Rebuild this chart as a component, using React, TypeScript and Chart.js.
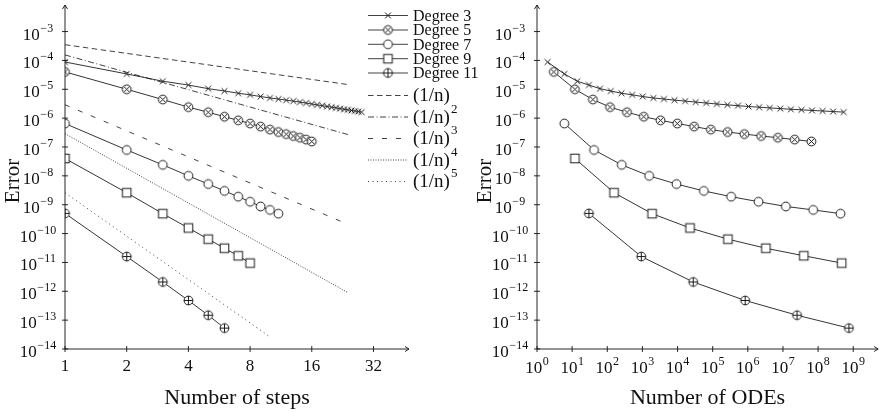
import { useEffect, useRef } from "react";
import { Chart, registerables } from "chart.js";

Chart.register(...registerables);

// ---------- data ----------
const stepsDeg3 = [1, 2, 3, 4, 5, 6, 7, 8, 9, 10, 11, 12, 13, 14, 15, 16, 17, 18, 19, 20, 21, 22, 23, 24, 25, 26, 27, 28];
const odesDeg3 = [2, 6, 14, 30, 62, 126, 254, 510, 1022, 2046, 4094, 8190, 16382, 32766, 65534, 131070, 262142, 524286, 1048574, 2097150, 4194302, 8388606, 16777214, 33554430, 67108862, 134217726, 268435454, 536870910];
const errDeg3 = [8.8e-5, 3.4e-5, 1.9e-5, 1.4e-5, 1.05e-5, 8.7e-6, 7.3e-6, 6.4e-6, 5.6e-6, 5.0e-6, 4.6e-6, 4.2e-6, 3.9e-6, 3.6e-6, 3.33e-6, 3.09e-6, 2.88e-6, 2.7e-6, 2.53e-6, 2.39e-6, 2.26e-6, 2.14e-6, 2.03e-6, 1.94e-6, 1.85e-6, 1.77e-6, 1.69e-6, 1.62e-6];

const stepsDeg5 = [1, 2, 3, 4, 5, 6, 7, 8, 9, 10, 11, 12, 13, 14, 15, 16];
const odesDeg5 = [3, 12, 39, 120, 363, 1092, 3279, 9840, 29523, 88572, 265719, 797160, 2391483, 7174452, 21523359, 64570080];
const errDeg5 = [4.0e-5, 1.0e-5, 4.4e-6, 2.4e-6, 1.6e-6, 1.12e-6, 8.4e-7, 6.5e-7, 5.1e-7, 4.0e-7, 3.3e-7, 2.8e-7, 2.4e-7, 2.1e-7, 1.8e-7, 1.55e-7];

const stepsDeg7 = [1, 2, 3, 4, 5, 6, 7, 8, 9, 10, 11];
const odesDeg7 = [6, 42, 258, 1554, 9330, 55986, 335922, 2015538, 12093234, 72559410, 435356466];
const errDeg7 = [6.5e-7, 7.9e-8, 2.4e-8, 1.0e-8, 5.2e-9, 3.0e-9, 1.9e-9, 1.27e-9, 8.7e-10, 6.6e-10, 4.9e-10];

const stepsDeg9 = [1, 2, 3, 4, 5, 6, 7, 8];
const odesDeg9 = [12, 156, 1884, 22620, 271452, 3257436, 39089244, 469070940];
const errDeg9 = [4.0e-8, 2.6e-9, 4.9e-10, 1.56e-10, 6.4e-11, 3.1e-11, 1.7e-11, 9.5e-12];

const stepsDeg11 = [1, 2, 3, 4, 5, 6];
const odesDeg11 = [30, 930, 27930, 837930, 25137930, 754137930];
const errDeg11 = [5.0e-10, 1.6e-11, 2.1e-12, 4.8e-13, 1.48e-13, 5.3e-14];

// reference slopes (start / end)
const refSteps = [1, 24];
const refSteps5 = [1, 10.1];
const ref1 = [3.5e-4, 1.46e-5];
const ref2 = [1.55e-4, 2.7e-7];
const ref3 = [2.9e-6, 2.1e-10];
const ref4 = [2.9e-7, 9.0e-13];
const ref5 = [2.6e-9, 2.5e-14];

const seriesLabels = ["Degree 3", "Degree 5", "Degree 7", "Degree 9", "Degree 11"];
const refLabels = ["(1/n)", "(1/n)", "(1/n)", "(1/n)", "(1/n)"];
const refPowers = ["", "2", "3", "4", "5"];

const xTicksSteps = [1, 2, 4, 8, 16, 32];
const xTickExpOdes = [0, 1, 2, 3, 4, 5, 6, 7, 8, 9];
const yTickExp = [-14, -13, -12, -11, -10, -9, -8, -7, -6, -5, -4, -3];

const yTitle = "Error";
const xTitleLeft = "Number of steps";
const xTitleRight = "Number of ODEs";

// ---------- styling ----------
const FONT = '"Liberation Serif", "Times New Roman", serif';
const INK = "#111";

function makeMarker(kind: string): HTMLCanvasElement {
  const s = 13;
  const c = document.createElement("canvas");
  c.width = s;
  c.height = s;
  const ctx = c.getContext("2d")!;
  const m = s / 2;
  const r = 4.4;
  ctx.strokeStyle = INK;
  ctx.fillStyle = "#fff";
  ctx.lineWidth = 0.95;
  if (kind === "x") {
    const d = 2.9;
    ctx.beginPath();
    ctx.moveTo(m - d, m - d);
    ctx.lineTo(m + d, m + d);
    ctx.moveTo(m - d, m + d);
    ctx.lineTo(m + d, m - d);
    ctx.stroke();
  } else if (kind === "square") {
    const h = 4.3;
    ctx.fillRect(m - h, m - h, 2 * h, 2 * h);
    ctx.strokeRect(m - h, m - h, 2 * h, 2 * h);
  } else {
    ctx.beginPath();
    ctx.arc(m, m, r, 0, Math.PI * 2);
    ctx.fill();
    ctx.stroke();
    if (kind === "otimes") {
      const d = r * Math.SQRT1_2;
      ctx.beginPath();
      ctx.moveTo(m - d, m - d);
      ctx.lineTo(m + d, m + d);
      ctx.moveTo(m - d, m + d);
      ctx.lineTo(m + d, m - d);
      ctx.stroke();
    } else if (kind === "oplus") {
      ctx.beginPath();
      ctx.moveTo(m - r, m);
      ctx.lineTo(m + r, m);
      ctx.moveTo(m, m - r);
      ctx.lineTo(m, m + r);
      ctx.stroke();
    }
  }
  return c;
}

const markerKinds = ["x", "otimes", "circle", "square", "oplus"];
const refDashes: number[][] = [[5.5, 3.5], [6, 2.5, 1, 2.5], [5, 9], [1, 1.5], [1, 3.5]];

function toPts(xs: number[], ys: number[]) {
  return xs.map((x, i) => ({ x, y: ys[i] }));
}

function drawPow(ctx: CanvasRenderingContext2D, exp: number, cx: number, baseY: number) {
  const base = "10";
  const sup = exp < 0 ? "\u2212" + Math.abs(exp) : String(exp);
  ctx.textAlign = "left";
  ctx.textBaseline = "alphabetic";
  ctx.font = `17px ${FONT}`;
  const wb = ctx.measureText(base).width;
  ctx.font = `12px ${FONT}`;
  const ws = ctx.measureText(sup).width;
  const x0 = cx - (wb + ws + 0.5) / 2;
  ctx.font = `17px ${FONT}`;
  ctx.fillText(base, x0, baseY);
  ctx.font = `12px ${FONT}`;
  ctx.fillText(sup, x0 + wb + 0.5, baseY - 8);
}

function axesPlugin(kind: "steps" | "odes", markers: HTMLCanvasElement[]) {
  return {
    id: "customAxes" + kind,
    afterDraw(chart: any) {
      const ctx: CanvasRenderingContext2D = chart.ctx;
      const { left, right, top, bottom } = chart.chartArea;
      const xs = chart.scales.x;
      const ys = chart.scales.y;
      ctx.save();
      ctx.strokeStyle = INK;
      ctx.fillStyle = INK;
      ctx.lineWidth = 0.9;
      // axis lines
      ctx.beginPath();
      ctx.moveTo(left, bottom);
      ctx.lineTo(left, top);
      ctx.moveTo(left, bottom);
      ctx.lineTo(right, bottom);
      ctx.stroke();
      // arrow heads
      ctx.beginPath();
      ctx.moveTo(left - 2.5, top + 4);
      ctx.lineTo(left, top);
      ctx.lineTo(left + 2.5, top + 4);
      ctx.moveTo(right - 4, bottom - 2.5);
      ctx.lineTo(right, bottom);
      ctx.lineTo(right - 4, bottom + 2.5);
      ctx.stroke();
      // y ticks + labels
      for (const e of yTickExp) {
        const py = ys.getPixelForValue(Math.pow(10, e));
        ctx.beginPath();
        ctx.moveTo(left - 3, py);
        ctx.lineTo(left + 3, py);
        ctx.stroke();
        drawPow(ctx, e, left - 27, py + 8);
      }
      // x ticks + labels
      if (kind === "steps") {
        for (const v of xTicksSteps) {
          const px = xs.getPixelForValue(v);
          ctx.beginPath();
          ctx.moveTo(px, bottom - 3);
          ctx.lineTo(px, bottom + 3);
          ctx.stroke();
          ctx.font = `17px ${FONT}`;
          ctx.textAlign = "center";
          ctx.textBaseline = "alphabetic";
          ctx.fillText(String(v), px, bottom + 22);
        }
      } else {
        for (const e of xTickExpOdes) {
          const px = xs.getPixelForValue(Math.pow(10, e));
          ctx.beginPath();
          ctx.moveTo(px, bottom - 3);
          ctx.lineTo(px, bottom + 3);
          ctx.stroke();
          drawPow(ctx, e, px, bottom + 23.5);
        }
      }
      // titles
      ctx.textAlign = "center";
      ctx.textBaseline = "middle";
      ctx.font = `21px ${FONT}`;
      ctx.save();
      ctx.translate(left - 52, (top + bottom) / 2 + 4);
      ctx.rotate(-Math.PI / 2);
      ctx.fillText(yTitle, 0, 0);
      ctx.restore();
      ctx.font = `22px ${FONT}`;
      ctx.fillText(kind === "steps" ? xTitleLeft : xTitleRight, (left + right) / 2, bottom + 49);

      // legend (left panel only)
      if (kind === "steps") {
        const lx0 = 368;
        const lx1 = 408;
        const tx = 413;
        const rowsDeg = [15.5, 30, 44.3, 58.7, 73];
        const rowsRef = [95.5, 117, 138.5, 160, 181.5];
        ctx.lineWidth = 0.8;
        rowsDeg.forEach((ry, i) => {
          ctx.setLineDash([]);
          ctx.beginPath();
          ctx.moveTo(lx0, ry);
          ctx.lineTo(lx1, ry);
          ctx.stroke();
          const mk = markers[i];
          ctx.drawImage(mk, (lx0 + lx1) / 2 - mk.width / 2, ry - mk.height / 2);
          ctx.font = `16px ${FONT}`;
          ctx.textAlign = "left";
          ctx.textBaseline = "middle";
          ctx.fillText(seriesLabels[i], tx, ry + 1);
        });
        rowsRef.forEach((ry, i) => {
          ctx.setLineDash(refDashes[i]);
          ctx.beginPath();
          ctx.moveTo(lx0, ry);
          ctx.lineTo(lx1, ry);
          ctx.stroke();
          ctx.setLineDash([]);
          ctx.font = `19px ${FONT}`;
          ctx.textAlign = "left";
          ctx.textBaseline = "middle";
          ctx.fillText(refLabels[i], tx, ry + 1);
          if (refPowers[i]) {
            const w = ctx.measureText(refLabels[i]).width;
            ctx.font = `13px ${FONT}`;
            ctx.fillText(refPowers[i], tx + w + 1, ry - 7.5);
          }
        });
      }
      ctx.restore();
    },
  };
}

function seriesDatasets(xsList: number[][], markers: HTMLCanvasElement[]) {
  const errs = [errDeg3, errDeg5, errDeg7, errDeg9, errDeg11];
  return errs.map((e, i) => ({
    label: seriesLabels[i],
    data: toPts(xsList[i], e),
    borderColor: INK,
    borderWidth: 0.85,
    pointStyle: markers[i] as any,
    pointRadius: 4,
    pointHoverRadius: 4,
    fill: false,
    tension: 0,
  }));
}

function scalesFor(xmin: number, xmax: number) {
  return {
    x: { type: "logarithmic" as const, min: xmin, max: xmax, display: false },
    y: { type: "logarithmic" as const, min: 1e-14, max: Math.pow(10, -2.08), display: false },
  };
}

export default function App() {
  const leftRef = useRef<HTMLCanvasElement>(null);
  const rightRef = useRef<HTMLCanvasElement>(null);

  useEffect(() => {
    const markers = markerKinds.map(makeMarker);
    const refData = [
      toPts(refSteps, ref1),
      toPts(refSteps, ref2),
      toPts(refSteps, ref3),
      toPts(refSteps, ref4),
      toPts(refSteps5, ref5),
    ];
    const refSets = refData.map((d, i) => ({
      label: refLabels[i] + refPowers[i],
      data: d,
      borderColor: INK,
      borderWidth: 0.8,
      borderDash: refDashes[i],
      pointRadius: 0,
      fill: false,
    }));
    const left = new Chart(leftRef.current!, {
      type: "line",
      data: {
        datasets: [
          ...refSets,
          ...seriesDatasets([stepsDeg3, stepsDeg5, stepsDeg7, stepsDeg9, stepsDeg11], markers),
        ] as any,
      },
      options: {
        responsive: false,
        animation: false,
        devicePixelRatio: 1,
        layout: { padding: { left: 65, right: 474, top: 5, bottom: 64 } },
        scales: scalesFor(1, 47.7),
        plugins: { legend: { display: false }, tooltip: { enabled: false } },
        events: [],
      },
      plugins: [axesPlugin("steps", markers)],
    });
    const right = new Chart(rightRef.current!, {
      type: "line",
      data: {
        datasets: seriesDatasets([odesDeg3, odesDeg5, odesDeg7, odesDeg9, odesDeg11], markers) as any,
      },
      options: {
        responsive: false,
        animation: false,
        devicePixelRatio: 1,
        layout: { padding: { left: 96, right: 2, top: 5, bottom: 64 } },
        scales: scalesFor(1, Math.pow(10, 9.709)),
        plugins: { legend: { display: false }, tooltip: { enabled: false } },
        events: [],
      },
      plugins: [axesPlugin("odes", markers)],
    });
    return () => {
      left.destroy();
      right.destroy();
    };
  }, []);

  return (
    <div style={{ position: "absolute", left: 0, top: 0, width: 883, height: 413, background: "#fff", overflow: "hidden" }}>
      <canvas ref={leftRef} width={883} height={413} style={{ position: "absolute", left: 0, top: 0, width: 883, height: 413 }} />
      <canvas ref={rightRef} width={442} height={413} style={{ position: "absolute", left: 441, top: 0, width: 442, height: 413 }} />
    </div>
  );
}
